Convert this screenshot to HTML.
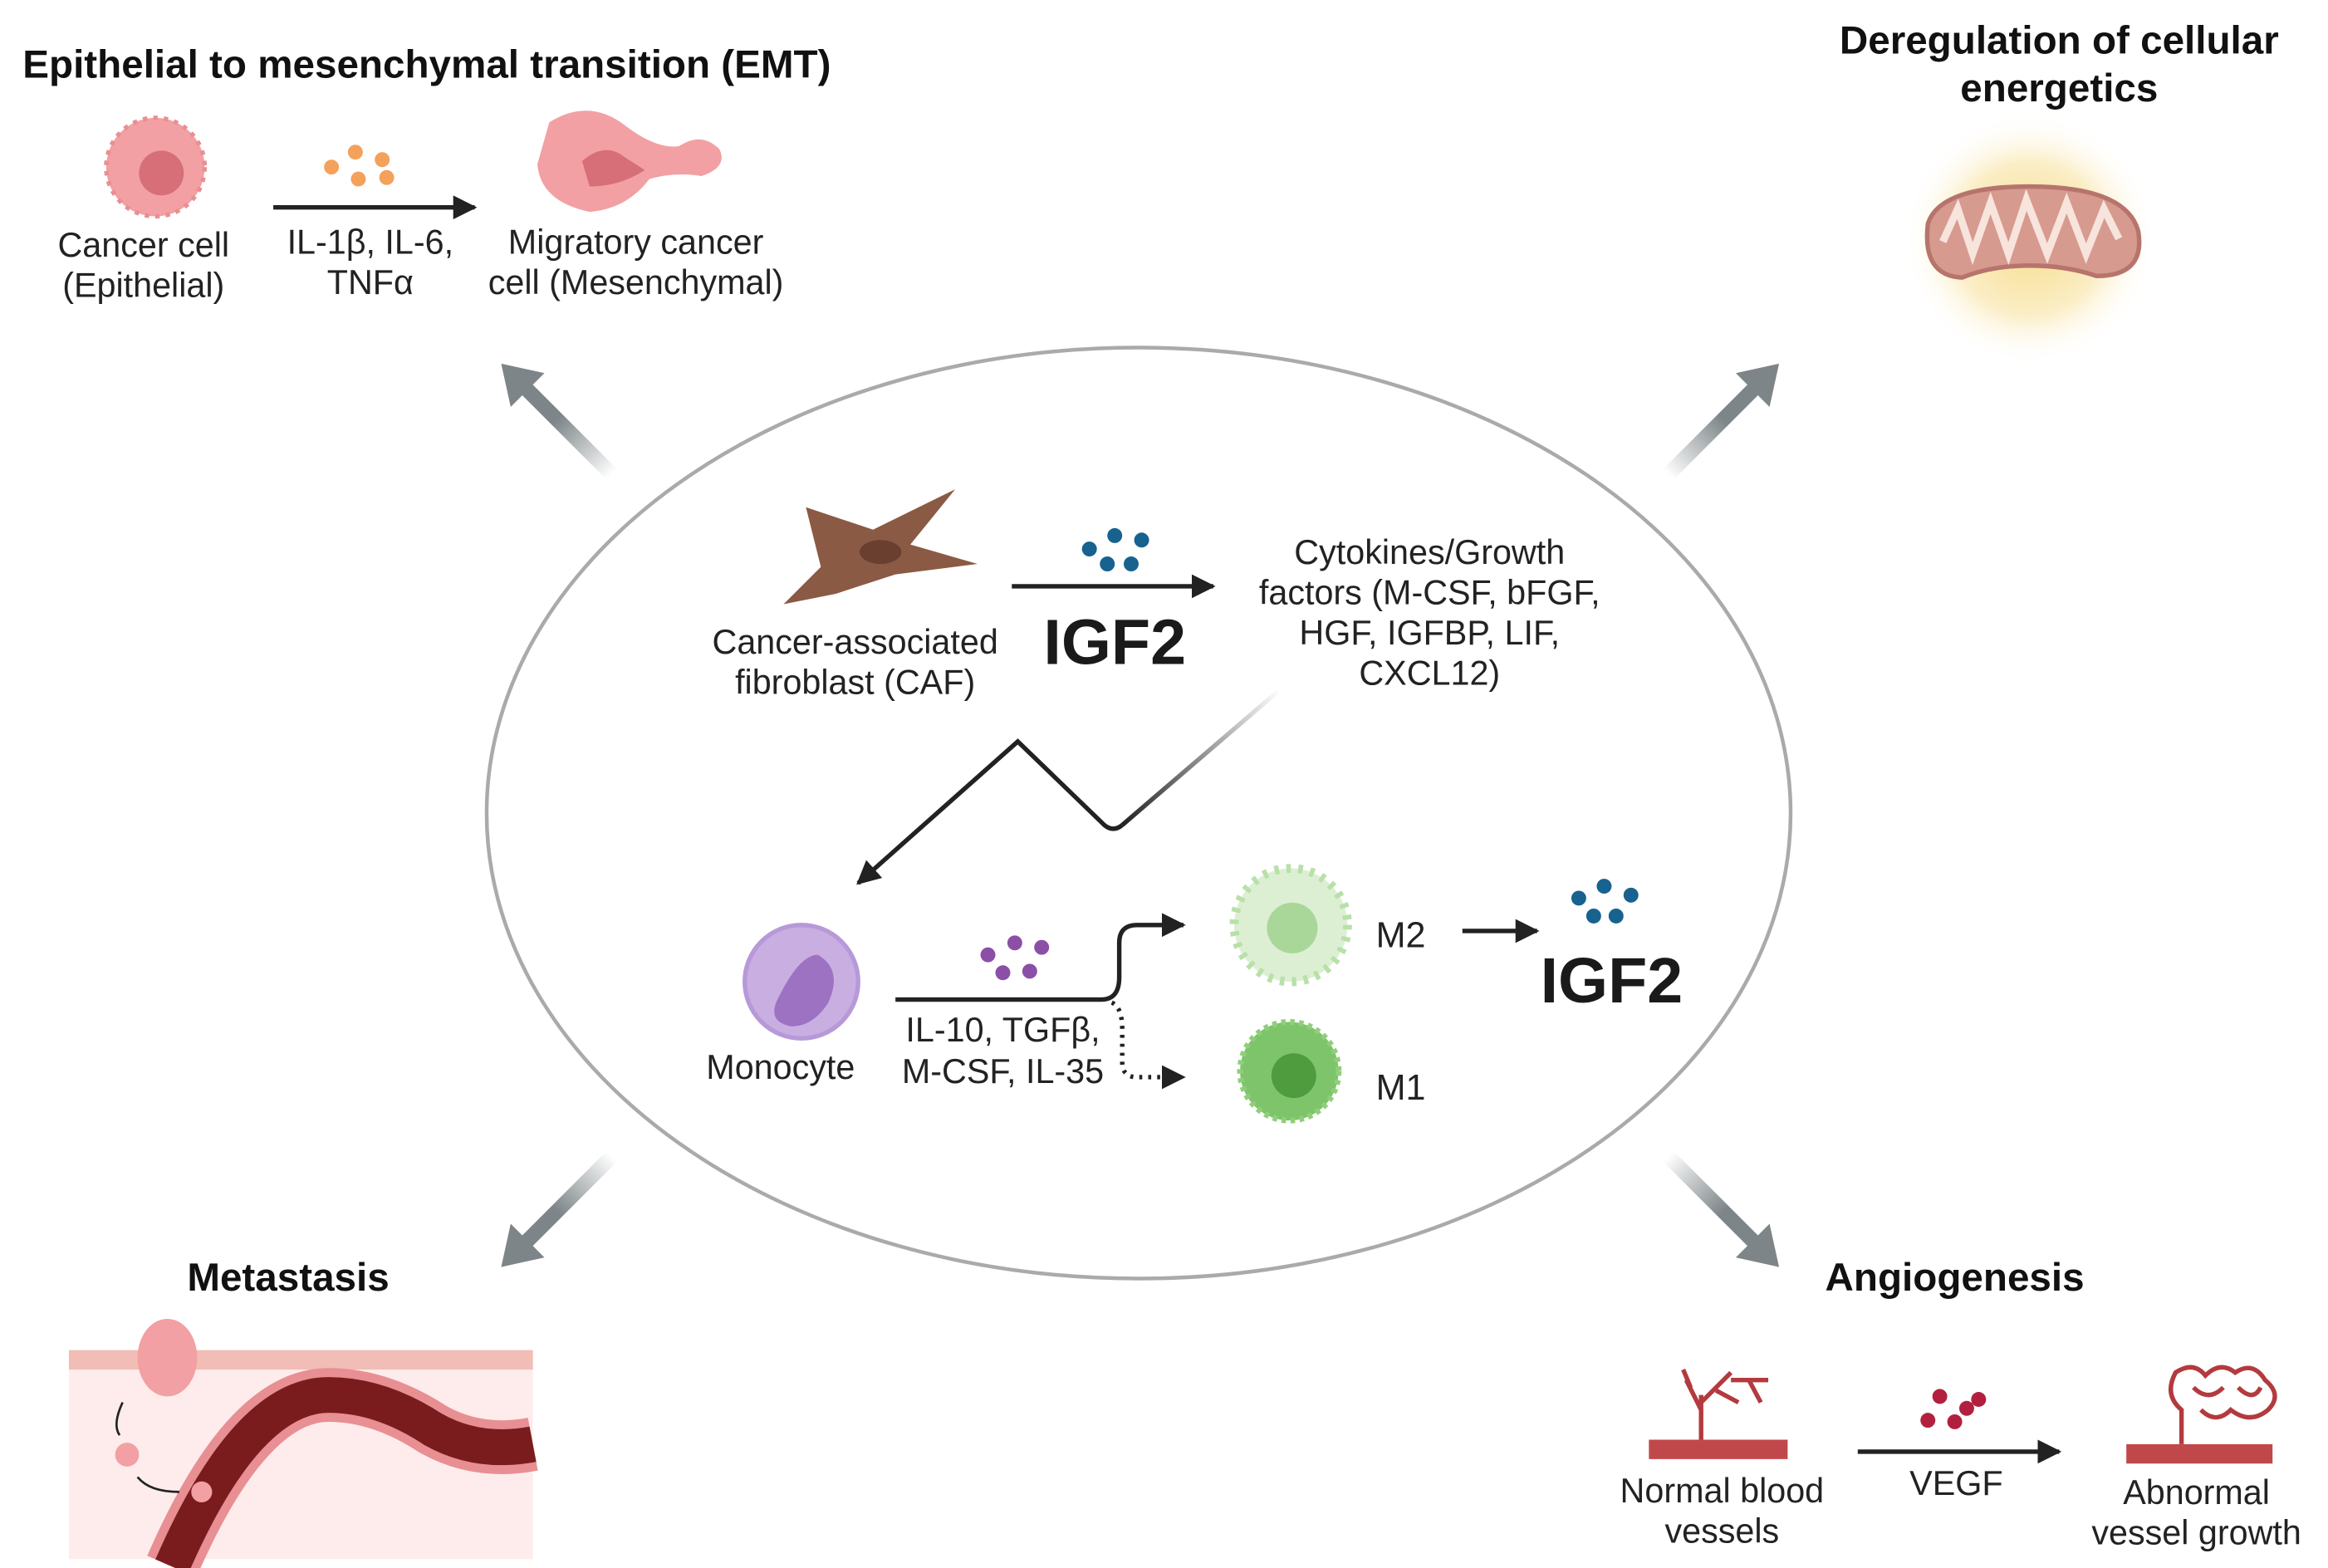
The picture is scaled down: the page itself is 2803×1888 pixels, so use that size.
<!DOCTYPE html>
<html><head><meta charset="utf-8"><style>
html,body{margin:0;padding:0;background:#fff;}
svg{display:block;}
text{font-family:"Liberation Sans",sans-serif;fill:#222;}
.l{font-size:23px;text-anchor:middle;}
.t{font-size:26.5px;font-weight:bold;fill:#111;}
.big{font-size:43px;font-weight:bold;text-anchor:middle;fill:#1a1a1a;}
</style></head><body>
<svg width="2803" height="1888" viewBox="0 0 1560 1051" xmlns="http://www.w3.org/2000/svg">
<defs>
<marker id="ahb" viewBox="0 0 10 10" markerWidth="16" markerHeight="16" refX="9" refY="5" orient="auto" markerUnits="userSpaceOnUse"><path d="M0,0 L10,5 L0,10 z" fill="#222"/></marker>
<linearGradient id="g1" x1="0" y1="0" x2="1" y2="0"><stop offset="0" stop-color="#7d8588" stop-opacity="0"/><stop offset="0.5" stop-color="#7d8588"/><stop offset="1" stop-color="#7d8588"/></linearGradient>
<radialGradient id="glow"><stop offset="0" stop-color="#f6dc8a"/><stop offset="0.6" stop-color="#fbeec6"/><stop offset="1" stop-color="#fff" stop-opacity="0"/></radialGradient>
<linearGradient id="zz" x1="858" y1="462" x2="752" y2="553" gradientUnits="userSpaceOnUse"><stop offset="0" stop-color="#222" stop-opacity="0"/><stop offset="1" stop-color="#222"/></linearGradient>
</defs>

<ellipse cx="763" cy="545" rx="437" ry="312" fill="none" stroke="#aaa" stroke-width="2.5"/>

<g>
<g transform="translate(410,318) rotate(-135)"><path d="M0,-5 L80,-5 L80,-16 L105,0 L80,16 L80,5 L0,5 z" fill="url(#g1)"/></g>
<g transform="translate(1118,318) rotate(-45)"><path d="M0,-5 L80,-5 L80,-16 L105,0 L80,16 L80,5 L0,5 z" fill="url(#g1)"/></g>
<g transform="translate(410,775) rotate(135)"><path d="M0,-5 L80,-5 L80,-16 L105,0 L80,16 L80,5 L0,5 z" fill="url(#g1)"/></g>
<g transform="translate(1118,775) rotate(45)"><path d="M0,-5 L80,-5 L80,-16 L105,0 L80,16 L80,5 L0,5 z" fill="url(#g1)"/></g>
</g>

<text class="t" x="15" y="52">Epithelial to mesenchymal transition (EMT)</text>
<circle cx="104" cy="112" r="33" fill="#f2a0a3" stroke="#e88f93" stroke-width="3" stroke-dasharray="3 4"/>
<circle cx="108" cy="116" r="15" fill="#d66f77"/>
<g fill="#f4a15c"><circle cx="238" cy="102" r="5"/><circle cx="256" cy="107" r="5"/><circle cx="222" cy="112" r="5"/><circle cx="240" cy="120" r="5"/><circle cx="259" cy="119" r="5"/></g>
<line x1="183" y1="139" x2="318" y2="139" stroke="#222" stroke-width="3" marker-end="url(#ahb)"/>
<path d="M368,82 Q395,65 420,85 Q440,100 455,98 Q470,88 482,100 Q488,112 470,118 Q452,115 435,120 Q420,140 395,142 Q362,135 360,110 Z" fill="#f2a0a3"/>
<path d="M390,108 Q405,95 418,105 L432,114 Q415,125 395,125 Z" fill="#d66f77"/>
<text class="l" x="96" y="172">Cancer cell</text><text class="l" x="96" y="199">(Epithelial)</text>
<text class="l" x="248" y="170">IL-1β, IL-6,</text><text class="l" x="248" y="197">TNFα</text>
<text class="l" x="426" y="170">Migratory cancer</text><text class="l" x="426" y="197">cell (Mesenchymal)</text>

<text class="t" x="1380" y="36" text-anchor="middle">Deregulation of cellular</text>
<text class="t" x="1380" y="68" text-anchor="middle">energetics</text>
<circle cx="1360" cy="160" r="85" fill="url(#glow)"/>
<path d="M1292,150 Q1300,125 1360,125 Q1425,125 1433,155 Q1438,185 1405,185 Q1385,178 1360,178 Q1335,178 1315,186 Q1288,185 1292,150 Z" fill="#d79a8f" stroke="#b7746c" stroke-width="3"/>
<path d="M1302,162 L1312,140 L1322,170 L1334,136 L1346,170 L1358,134 L1372,170 L1385,136 L1398,170 L1410,140 L1420,160" fill="none" stroke="#f7e4dc" stroke-width="5"/>

<path d="M540,340 L585,355 L640,328 L610,365 L655,378 L600,385 L560,398 L525,405 L550,380 Z" fill="#8a5a44"/>
<ellipse cx="590" cy="370" rx="14" ry="8" fill="#6a3f30"/>
<g fill="#17628f"><circle cx="747" cy="359" r="5"/><circle cx="765" cy="362" r="5"/><circle cx="730" cy="368" r="5"/><circle cx="742" cy="378" r="5"/><circle cx="758" cy="378" r="5"/></g>
<line x1="678" y1="393" x2="813" y2="393" stroke="#222" stroke-width="3" marker-end="url(#ahb)"/>
<text class="big" x="747" y="445">IGF2</text>
<text class="l" x="573" y="438">Cancer-associated</text><text class="l" x="573" y="465">fibroblast (CAF)</text>
<text class="l" x="958" y="378">Cytokines/Growth</text>
<text class="l" x="958" y="405">factors (M-CSF, bFGF,</text>
<text class="l" x="958" y="432">HGF, IGFBP, LIF,</text>
<text class="l" x="958" y="459">CXCL12)</text>

<path d="M858,462 L752,553" stroke="url(#zz)" stroke-width="3" fill="none"/>
<path d="M752,553 Q746,558 740,553 L682,497 L575,592" stroke="#222" stroke-width="3" fill="none" marker-end="url(#ahb)"/>

<circle cx="537" cy="658" r="38" fill="#c9aee2" stroke="#b799d8" stroke-width="3"/>
<path d="M520,672 Q535,640 548,640 Q565,650 555,672 Q545,688 530,688 Q515,685 520,672 Z" fill="#9e72c2"/>
<text class="l" x="523" y="723">Monocyte</text>
<g fill="#8b4fa8"><circle cx="680" cy="632" r="5"/><circle cx="698" cy="635" r="5"/><circle cx="662" cy="640" r="5"/><circle cx="672" cy="652" r="5"/><circle cx="690" cy="651" r="5"/></g>
<path d="M600,670 L738,670 Q750,670 750,655 L750,632 Q750,620 762,620 L793,620" stroke="#222" stroke-width="3" fill="none" marker-end="url(#ahb)"/>
<path d="M745,672 Q752,675 752,690 L752,712 Q752,722 762,722 L793,722" stroke="#222" stroke-width="3" stroke-dasharray="2 4" fill="none" marker-end="url(#ahb)"/>
<text class="l" x="672" y="698">IL-10, TGFβ,</text><text class="l" x="672" y="726">M-CSF, IL-35</text>

<circle cx="865" cy="620" r="38" fill="#dcefd3" stroke="#b8e0a8" stroke-width="6" stroke-dasharray="3 5"/>
<circle cx="866" cy="622" r="17" fill="#a9d79a"/>
<text x="922" y="635" style="font-size:24px">M2</text>
<line x1="980" y1="624" x2="1030" y2="624" stroke="#222" stroke-width="3" marker-end="url(#ahb)"/>
<g fill="#17628f"><circle cx="1075" cy="594" r="5"/><circle cx="1093" cy="600" r="5"/><circle cx="1058" cy="602" r="5"/><circle cx="1068" cy="614" r="5"/><circle cx="1083" cy="614" r="5"/></g>
<text class="big" x="1080" y="672">IGF2</text>

<circle cx="864" cy="718" r="33" fill="#7ec46a" stroke="#8fcf7a" stroke-width="4" stroke-dasharray="3 3"/>
<circle cx="867" cy="721" r="15" fill="#4e9c3e"/>
<text x="922" y="737" style="font-size:24px">M1</text>

<text class="t" x="193" y="865" text-anchor="middle">Metastasis</text>
<rect x="46" y="905" width="311" height="140" fill="#fdeceb"/>
<rect x="46" y="905" width="311" height="13" fill="#f1bdb6"/>
<ellipse cx="112" cy="910" rx="20" ry="26" fill="#f2a0a3"/>
<path d="M115,1050 Q165,935 220,935 Q255,935 290,958 Q320,975 357,968" fill="none" stroke="#e88f93" stroke-width="36"/>
<path d="M115,1050 Q165,935 220,935 Q255,935 290,958 Q320,975 357,968" fill="none" stroke="#7a1c1e" stroke-width="24"/>
<circle cx="85" cy="975" r="8" fill="#f2a0a3"/>
<circle cx="135" cy="1000" r="7" fill="#f2a0a3"/>
<path d="M82,940 Q75,955 80,962" stroke="#222" stroke-width="1.5" fill="none"/>
<path d="M92,990 Q100,1000 120,1000" stroke="#222" stroke-width="1.5" fill="none"/>

<text class="t" x="1310" y="865" text-anchor="middle">Angiogenesis</text>
<rect x="1105" y="965" width="93" height="13" fill="#c0484b"/>
<path d="M1140,965 L1140,935 M1140,945 L1130,925 M1140,940 L1160,920 M1150,932 L1165,940 M1160,925 L1185,925 M1172,925 L1180,940 M1133,930 L1128,918" stroke="#b33a3e" stroke-width="3" fill="none"/>
<g fill="#b3203f"><circle cx="1300" cy="936" r="5"/><circle cx="1318" cy="944" r="5"/><circle cx="1292" cy="952" r="5"/><circle cx="1310" cy="953" r="5"/><circle cx="1326" cy="938" r="5"/></g>
<line x1="1245" y1="973" x2="1380" y2="973" stroke="#222" stroke-width="3" marker-end="url(#ahb)"/>
<rect x="1425" y="968" width="98" height="13" fill="#c0484b"/>
<path d="M1462,968 L1462,945 Q1450,935 1458,920 Q1470,912 1478,922 Q1488,912 1498,920 Q1510,912 1518,925 Q1530,935 1520,945 Q1508,955 1495,945 Q1485,955 1475,945 M1470,930 Q1480,940 1490,930 M1500,930 Q1510,940 1515,930" stroke="#b33a3e" stroke-width="3" fill="none"/>
<text class="l" x="1154" y="1007">Normal blood</text><text class="l" x="1154" y="1034">vessels</text>
<text class="l" x="1311" y="1002">VEGF</text>
<text class="l" x="1472" y="1008">Abnormal</text><text class="l" x="1472" y="1035">vessel growth</text>
</svg>
</body></html>
